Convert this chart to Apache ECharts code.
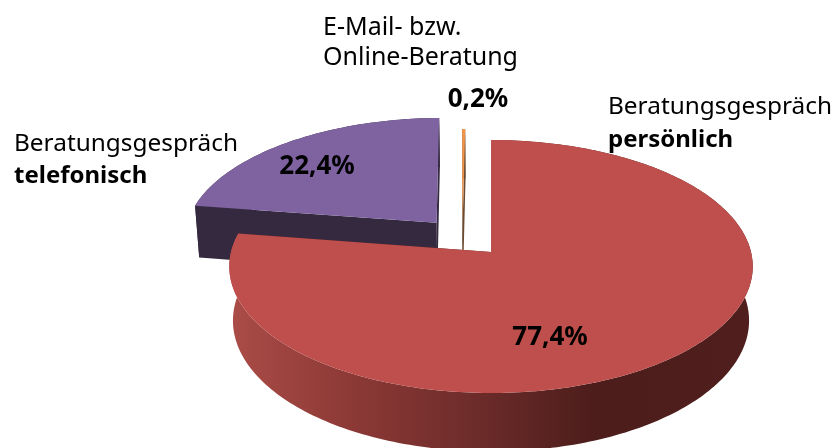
<!DOCTYPE html>
<html><head><meta charset="utf-8">
<style>html,body{margin:0;padding:0;background:#fff}#c{width:834px;height:448px}</style>
<script src="https://cdn.jsdelivr.net/npm/echarts@6/dist/echarts.min.js"></script>
</head><body><div id="c"></div>
<script>
// Data
var categories = ['Beratungsgespräch persönlich', 'Beratungsgespräch telefonisch', 'E-Mail- bzw. Online-Beratung'];
var values = [77.4, 22.4, 0.2];
var valueLabels = ['77,4%', '22,4%', '0,2%'];
var labelRegular = [['Beratungsgespräch'], ['Beratungsgespräch'], ['E-Mail- bzw.', 'Online-Beratung']];
var labelBold = ['persönlich', 'telefonisch', ''];
var topColors = ['#be4f4c', '#7f63a1', '#f79646'];
var wallColors = ['#4c1d1b', '#352940', '#6a4a30'];

// Layout / projection of the tilted disc
var origin = [491, 252], A = 260, B = 124.8, K = 0.1147, WALL = 53.6, SHRINK = 0.986;
var explode = [[0, 0], [-0.215, 0.24], [-0.112, 0.111]];
var radius = [1, 0.985, 1];
var valueLabelPos = [[550, 338], [317, 167], [478, 100]];
var namePos = [[608, 107], [14, 144], [323, 28]];
var boldPos = [[608, 140], [14, 176], null];
var nameSizes = [24.4, 24.4, 25];
var lineGap = 29.5;
var FONT = '"Noto Sans", sans-serif', SIZE = 24, VALUE_SIZE = 26;

function project(u, v, low) {
  var d = 1 + K * v, s = low ? SHRINK : 1;
  return [origin[0] + s * A * u / d, origin[1] - s * B * v / d + (low ? WALL / d : 0)];
}
function arc(off, r, a0, a1, low) {
  var pts = [], n = Math.max(2, Math.ceil((a1 - a0) / 0.02));
  for (var i = 0; i <= n; i++) {
    var t = a0 + (a1 - a0) * i / n;
    pts.push(project(off[0] + r * Math.sin(t), off[1] + r * Math.cos(t), low));
  }
  return pts;
}
var total = values.reduce(function (a, b) { return a + b; }, 0);
var redWallGradient = {type: 'linear', x: 230, y: 0, x2: 754, y2: 0, global: true, colorStops: [
  {offset: 0, color: '#ab4c47'}, {offset: 0.25, color: '#8a3835'}, {offset: 0.5, color: '#682a28'},
  {offset: 0.7, color: '#4c1d1b'}, {offset: 1, color: '#501f1d'}]};
var orangeGradient = {type: 'linear', x: 0, y: 129, x2: 0, y2: 240, global: true, colorStops: [
  {offset: 0, color: '#f79646'}, {offset: 0.6, color: '#e9924c'}, {offset: 0.85, color: '#8a6a50'}, {offset: 1, color: '#6a5a50'}]};

var starts = [];
values.reduce(function (acc, v, i) { starts[i] = acc; return acc + v; }, 0);

function renderItem(params, api) {
  var i = api.value(0);
  var off = explode[i], r = radius[i];
  var a0 = starts[i] / total * 2 * Math.PI;
  var a1 = (starts[i] + api.value(1)) / total * 2 * Math.PI;
  var kids = [];
  var wallFill = i === 0 ? redWallGradient : wallColors[i];
  // cut walls
  [a0, a1].forEach(function (a) {
    var e = project(off[0] + r * Math.sin(a), off[1] + r * Math.cos(a));
    var el = project(off[0] + r * Math.sin(a), off[1] + r * Math.cos(a), true);
    var c = project(off[0], off[1]), cl = project(off[0], off[1], true);
    kids.push({type: 'polygon', shape: {points: [c, e, el, cl]}, style: {fill: wallColors[i]}});
  });
  // outer wall
  var top = arc(off, r, a0, a1, false), bot = arc(off, r, a0, a1, true);
  kids.push({type: 'polygon', shape: {points: top.concat(bot.slice().reverse())}, style: {fill: wallFill}});
  // top face
  kids.push({type: 'polygon', shape: {points: [project(off[0], off[1])].concat(top)},
    style: {fill: i === 2 ? orangeGradient : topColors[i]}});
  return {type: 'group', children: kids};
}

function txt(s, p, bold, align, size) {
  return {type: 'text', z: 50, style: {text: s, x: p[0], y: p[1], fill: '#000', align: align || 'left', verticalAlign: 'middle',
    font: (bold ? 'bold ' : '') + size + 'px ' + FONT}};
}
var texts = [];
values.forEach(function (v, i) {
  labelRegular[i].forEach(function (s, k) {
    texts.push(txt(s, [namePos[i][0], namePos[i][1] + k * lineGap], false, 'left', nameSizes[i]));
  });
  if (labelBold[i]) texts.push(txt(labelBold[i], boldPos[i], true, 'left', SIZE));
  texts.push(txt(valueLabels[i], valueLabelPos[i], true, 'center', VALUE_SIZE));
});

// paint order: back slices first
var paintOrder = [1, 2, 0];
var chart = echarts.init(document.getElementById('c'), null, {renderer: 'canvas'});
chart.setOption({
  animation: false,
  backgroundColor: '#fff',
  series: [{
    type: 'custom',
    coordinateSystem: 'none',
    silent: true,
    renderItem: renderItem,
    data: paintOrder.map(function (i) { return {name: categories[i], value: [i, values[i]]}; })
  }],
  graphic: {elements: texts}
});
</script></body></html>
